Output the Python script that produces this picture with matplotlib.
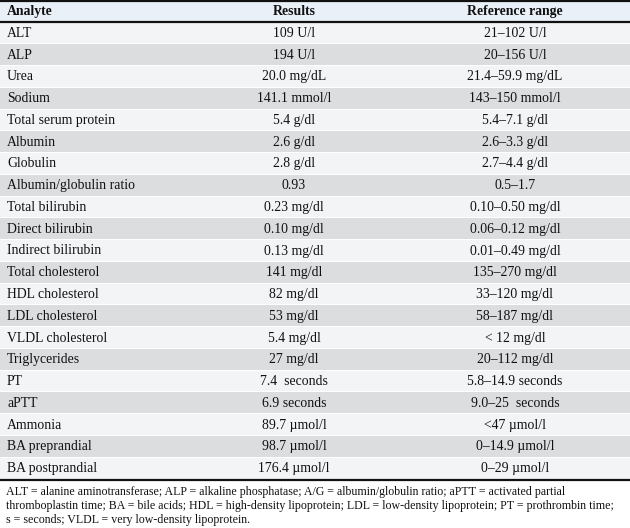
import matplotlib
matplotlib.use("Agg")
import matplotlib.pyplot as plt
from matplotlib.patches import Rectangle

headers = ["Analyte", "Results", "Reference range"]
analytes = ["ALT", "ALP", "Urea", "Sodium", "Total serum protein", "Albumin",
            "Globulin", "Albumin/globulin ratio", "Total bilirubin",
            "Direct bilirubin", "Indirect bilirubin", "Total cholesterol",
            "HDL cholesterol", "LDL cholesterol", "VLDL cholesterol",
            "Triglycerides", "PT", "aPTT", "Ammonia", "BA preprandial",
            "BA postprandial"]
results = ["109 U/l", "194 U/l", "20.0 mg/dL", "141.1 mmol/l", "5.4 g/dl",
           "2.6 g/dl", "2.8 g/dl", "0.93", "0.23 mg/dl", "0.10 mg/dl",
           "0.13 mg/dl", "141 mg/dl", "82 mg/dl", "53 mg/dl", "5.4 mg/dl",
           "27 mg/dl", "7.4  seconds", "6.9 seconds", "89.7 µmol/l",
           "98.7 µmol/l", "176.4 µmol/l"]
ref_ranges = ["21–102 U/l", "20–156 U/l", "21.4–59.9 mg/dL", "143–150 mmol/l",
              "5.4–7.1 g/dl", "2.6–3.3 g/dl", "2.7–4.4 g/dl", "0.5–1.7",
              "0.10–0.50 mg/dl", "0.06–0.12 mg/dl", "0.01–0.49 mg/dl",
              "135–270 mg/dl", "33–120 mg/dl", "58–187 mg/dl", "< 12 mg/dl",
              "20–112 mg/dl", "5.8–14.9 seconds", "9.0–25  seconds",
              "<47 µmol/l", "0–14.9 µmol/l", "0–29 µmol/l"]
footnote = ["ALT = alanine aminotransferase; ALP = alkaline phosphatase; A/G = albumin/globulin ratio; aPTT = activated partial",
            "thromboplastin time; BA = bile acids; HDL = high-density lipoprotein; LDL = low-density lipoprotein; PT = prothrombin time;",
            "s = seconds; VLDL = very low-density lipoprotein."]

W, H = 630, 528
fig = plt.figure(figsize=(W / 100, H / 100), dpi=100)
ax = fig.add_axes([0, 0, 1, 1])
ax.set_xlim(0, W)
ax.set_ylim(H, 0)
ax.axis("off")

serif = ["Liberation Serif", "DejaVu Serif"]
fs = 9.9
tc = "#111111"

header_top, header_bot = 2, 20.5
body_top, body_bot = 22.5, 479.5
n = len(analytes)
rh = (body_bot - body_top) / n
x_an, x_res, x_ref = 7, 294, 515

# header
ax.add_patch(Rectangle((0, header_top), W, header_bot - header_top, color="#eaf0f8", lw=0))
ax.plot([0, W], [1, 1], color="#111111", lw=1.6, solid_capstyle="butt")
ax.plot([0, W], [21.5, 21.5], color="#111111", lw=1.6, solid_capstyle="butt")
hy = (header_top + header_bot) / 2
ax.text(x_an, hy, headers[0], ha="left", va="center", fontsize=fs, family=serif, weight="bold", color=tc)
ax.text(x_res, hy, headers[1], ha="center", va="center", fontsize=fs, family=serif, weight="bold", color=tc)
ax.text(x_ref, hy, headers[2], ha="center", va="center", fontsize=fs, family=serif, weight="bold", color=tc)

for i, (a, r, rr) in enumerate(zip(analytes, results, ref_ranges)):
    y0 = body_top + i * rh
    col = "#f3f4f6" if i % 2 == 0 else "#dcdddf"
    ax.add_patch(Rectangle((0, y0), W, rh - 1.0, color=col, lw=0))
    yc = y0 + (rh - 1.0) / 2 + 0.5
    ax.text(x_an, yc, a, ha="left", va="center", fontsize=fs, family=serif, color=tc)
    ax.text(x_res, yc, r, ha="center", va="center", fontsize=fs, family=serif, color=tc)
    ax.text(x_ref, yc, rr, ha="center", va="center", fontsize=fs, family=serif, color=tc)

ax.plot([0, W], [body_bot + 0.5, body_bot + 0.5], color="#111111", lw=1.6, solid_capstyle="butt")

for j, line in enumerate(footnote):
    ax.text(6, 491.5 + j * 14.5, line, ha="left", va="center", fontsize=8.6, family=serif, color=tc)

fig.savefig("out.png", dpi=100, facecolor="white")
